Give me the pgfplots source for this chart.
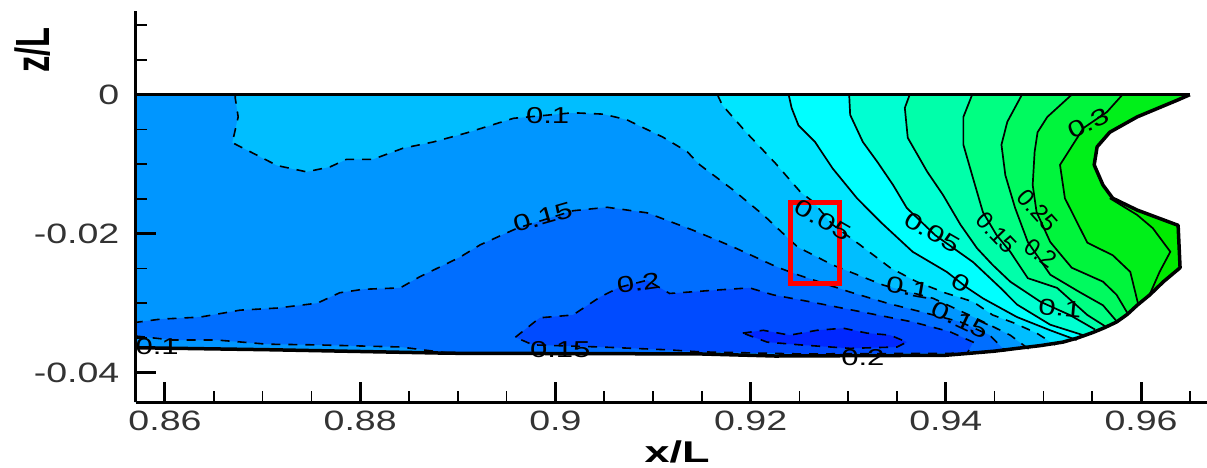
\documentclass[border=0pt]{standalone}
\usepackage{pgfplots}
\usepackage{pgfplotstable}
\pgfplotsset{compat=1.18}
\usepackage{fontspec}
\setmainfont{Liberation Sans}
\newfontfamily\tickf[FakeStretch=1.34]{Liberation Sans}
\newfontfamily\labf[FakeStretch=1.35]{Liberation Sans}
\newcommand{\lab}[1]{{\labf\fontsize{23}{23}\selectfont #1}}
\newcommand{\labs}[1]{{\fontsize{24}{24}\selectfont #1}}
\definecolor{b1}{RGB}{0,40,255}
\definecolor{b2}{RGB}{0,75,255}
\definecolor{b3}{RGB}{0,110,255}
\definecolor{b4}{RGB}{0,150,255}
\definecolor{b5}{RGB}{0,190,255}
\definecolor{b6}{RGB}{0,230,255}
\definecolor{g0}{RGB}{0,255,255}
\definecolor{g1}{RGB}{0,255,210}
\definecolor{g2}{RGB}{0,255,170}
\definecolor{g3}{RGB}{0,255,130}
\definecolor{g4}{RGB}{0,250,95}
\definecolor{g5}{RGB}{0,245,60}
\definecolor{g6}{RGB}{0,240,25}
\definecolor{g7}{RGB}{0,235,0}
\pgfplotstableread{
x y
.97 -.05
.97 0
}\corners
\pgfplotstableread{
x y
.8672 0
.8672 -.0005
.8675 -.0032
.8669 -.0069
.8690 -.0084
.8715 -.0102
.8745 -.0111
.8769 -.0104
.8786 -.0093
.8813 -.0093
.8844 -.0077
.8875 -.0068
.8909 -.0055
.8957 -.0034
.9018 -.0026
.9049 -.0028
.9073 -.0036
.9110 -.0061
.9135 -.0082
.9148 -.0101
.9182 -.0137
.9213 -.0173
.9248 -.0219
.9284 -.0245
.9336 -.0274
.9387 -.0293
.9430 -.0321
.9466 -.0346
.9486 -.0367
}\cA
\pgfplotstableread{
x y
.8568 -.0328
.8595 -.0323
.8636 -.0320
.8677 -.0310
.8715 -.0307
.8756 -.0300
.8779 -.0285
.8803 -.0280
.8841 -.0278
.8861 -.0262
.8902 -.0234
.8923 -.0216
.8961 -.0192
.9018 -.0167
.9053 -.0162
.9094 -.0170
.9141 -.0195
.9182 -.0219
.9227 -.0248
.9248 -.0259
.9302 -.0284
.9340 -.0300
.9379 -.0314
.9415 -.0327
.9445 -.0346
.9461 -.0369
}\cB
\pgfplotstableread{
x y
.8892 -.0372
.8841 -.0363
.8756 -.0360
.8705 -.0359
.8653 -.0353
.8608 -.0353
.8568 -.0347
}\cBl
\pgfplotstableread{
x y
.8959 -.0349
.8984 -.0321
.9018 -.0317
.9046 -.0291
.9066 -.0277
.9094 -.0267
.9117 -.0286
.9166 -.0281
.9199 -.0278
.9223 -.0288
.9261 -.0298
.9319 -.0314
.9366 -.0327
.9404 -.0341
.9428 -.0356
.9422 -.0372
.9251 -.0373
.9148 -.0370
.9114 -.0367
.9046 -.0363
.8977 -.0360
.8959 -.0349
}\cC
\pgfplotstableread{
x y
.9192 -.0343
.9213 -.0339
.9240 -.0346
.9268 -.0339
.9295 -.0336
.9319 -.0343
.9343 -.0346
.9360 -.0356
.9350 -.0363
.9302 -.0365
.9251 -.0360
.9217 -.0356
.9192 -.0343
}\cD
\pgfplotstableread{
x y
.9166 0
.9171 -.0015
.9196 -.0055
.9225 -.0098
.9251 -.0140
.9264 -.0154
.9284 -.0187
.9312 -.0216
.9343 -.0249
.9370 -.0269
.9399 -.0285
.9428 -.0298
.9448 -.0317
.9469 -.0328
.9493 -.0343
.9512 -.0360
}\cE
\pgfplotstableread{
x y
.9239 0
.9242 -.0019
.9249 -.0044
.9266 -.0068
.9284 -.0106
.9309 -.0149
.9333 -.0183
.9366 -.0226
.9401 -.0255
.9422 -.0278
.9438 -.0293
.9473 -.0320
.9507 -.0339
.9534 -.0353
}\cF
\pgfplotstableread{
x y
.9301 0
.9302 -.0029
.9315 -.0068
.9330 -.0097
.9346 -.0130
.9360 -.0163
.9389 -.0202
.9428 -.0241
.9456 -.0278
.9473 -.0302
.9507 -.0331
.9543 -.0347
}\cG
\pgfplotstableread{
x y
.9363 0
.9358 -.0019
.9361 -.0062
.9381 -.0111
.9397 -.0144
.9415 -.0187
.9432 -.0221
.9448 -.0245
.9466 -.0269
.9497 -.0298
.9527 -.0317
.9553 -.0338
}\cH
\pgfplotstableread{
x y
.9427 0
.9418 -.0032
.9418 -.0072
.9427 -.0116
.9438 -.0169
.9452 -.0202
.9466 -.0226
.9484 -.0264
.9514 -.0278
.9545 -.0317
.9563 -.0333
}\cI
\pgfplotstableread{
x y
.9478 0
.9463 -.0039
.9457 -.0072
.9461 -.0116
.9471 -.0163
.9484 -.0212
.9507 -.0259
.9537 -.0284
.9561 -.0303
.9575 -.0326
}\cJ
\pgfplotstableread{
x y
.9529 0
.9504 -.0032
.9494 -.0054
.9491 -.0082
.9489 -.0130
.9493 -.0169
.9507 -.0212
.9529 -.0249
.9561 -.0269
.9575 -.0288
.9586 -.0314
}\cK
\pgfplotstableread{
x y
.9581 0
.9565 -.0025
.9541 -.0048
.9517 -.0101
.9522 -.0149
.9545 -.0213
.9571 -.0231
.9589 -.0255
.9597 -.0301
}\cL
\pgfplotstableread{
x y
.9568 -.0149
.9596 -.0173
.9612 -.0192
.9630 -.0226
.9619 -.0255
.9609 -.0287
}\cM
\pgfplotstableread{
x y
.9650 0
.9637 -.0008
.9596 -.0032
.9568 -.0054
.9555 -.0075
.9552 -.0101
.9561 -.0130
.9571 -.0149
.9596 -.0166
.9638 -.0188
.9640 -.0249
.9623 -.0269
.9609 -.0288
.9596 -.0303
.9586 -.0316
.9575 -.0327
.9563 -.0335
.9551 -.0342
.9535 -.0350
.9520 -.0356
.9497 -.0361
.9473 -.0365
.9450 -.0369
.9425 -.0372
.9399 -.0375
.9225 -.0376
.9148 -.0373
.8892 -.0372
.8708 -.0367
.8568 -.0364
}\bnd
\pgfplotstableread{
x y
.8560 -.0364
.8560 -.05
.97 -.05
.97 .001
.9650 .001
}\outer
\pgfplotstablevertcat{\fA}{\cA}\pgfplotstablevertcat{\fA}{\corners}
\pgfplotstablevertcat{\fB}{\cB}\pgfplotstablevertcat{\fB}{\cBl}
\pgfplotstablevertcat{\fE}{\cE}\pgfplotstablevertcat{\fE}{\corners}
\pgfplotstablevertcat{\fF}{\cF}\pgfplotstablevertcat{\fF}{\corners}
\pgfplotstablevertcat{\fG}{\cG}\pgfplotstablevertcat{\fG}{\corners}
\pgfplotstablevertcat{\fH}{\cH}\pgfplotstablevertcat{\fH}{\corners}
\pgfplotstablevertcat{\fI}{\cI}\pgfplotstablevertcat{\fI}{\corners}
\pgfplotstablevertcat{\fJ}{\cJ}\pgfplotstablevertcat{\fJ}{\corners}
\pgfplotstablevertcat{\fK}{\cK}\pgfplotstablevertcat{\fK}{\corners}
\pgfplotstablevertcat{\fL}{\cL}\pgfplotstablevertcat{\fL}{\corners}
\pgfplotstablevertcat{\fM}{\cM}\pgfplotstablevertcat{\fM}{\corners}
\pgfplotstablevertcat{\fO}{\bnd}\pgfplotstablevertcat{\fO}{\outer}
\begin{document}
\begin{tikzpicture}
\useasboundingbox (0,0) rectangle (1207pt,467pt);
\begin{axis}[
  at={(135.5pt,64.7pt)}, anchor=south west,
  scale only axis, width=1071.5pt, height=391.3pt,
  xmin=.85698, xmax=.96676, ymin=-.04426, ymax=.01204,
  axis x line*=bottom, axis y line*=left,
  axis line style={-, line width=3.5pt, black},
  axis on top,
  tick align=inside,
  xtick={.86,.88,.9,.92,.94,.96},
  xticklabels={0.86,0.88,0.9,0.92,0.94,0.96},
  minor xtick={.865,.87,.875,.885,.89,.895,.905,.91,.915,.925,.93,.935,.945,.95,.955,.965},
  ytick={-.04,-.02,0},
  yticklabels={-0.04,-0.02,0},
  minor ytick={-.035,-.03,-.025,-.015,-.01,-.005,.005,.01},
  major tick length=20pt, minor tick length=11pt,
  major tick style={line width=3pt, black},
  minor tick style={line width=1.7pt, black},
  xticklabel style={font=\tickf\fontsize{28}{28}\selectfont, text=black!80, inner sep=0pt, anchor=north, yshift=-8pt},
  yticklabel style={font=\tickf\fontsize{28}{28}\selectfont, text=black!80, inner sep=0pt, anchor=east, xshift=-16pt},
]
% filled bands
\addplot[fill=b4, draw=none] coordinates {(.85,0) (.97,0) (.97,-.05) (.85,-.05)};
\addplot[fill=b5, draw=none] table {\fA};
\addplot[fill=b3, draw=none] table {\fB};
\addplot[fill=b2, draw=none] table {\cC};
\addplot[fill=b1, draw=none] table {\cD};
\addplot[fill=b6, draw=none] table {\fE};
\addplot[fill=g0, draw=none] table {\fF};
\addplot[fill=g1, draw=none] table {\fG};
\addplot[fill=g2, draw=none] table {\fH};
\addplot[fill=g3, draw=none] table {\fI};
\addplot[fill=g4, draw=none] table {\fJ};
\addplot[fill=g5, draw=none] table {\fK};
\addplot[fill=g6, draw=none] table {\fL};
\addplot[fill=g7, draw=none] table {\fM};
\addplot[fill=white, draw=none] table {\fO};
% contour lines
\pgfplotsset{cdash/.style={black, line width=1.6pt, dash pattern=on 9pt off 8pt},
             csol/.style={black, line width=1.7pt}}
\addplot[cdash] table {\cA};
\addplot[cdash] table {\cB};
\addplot[cdash] table {\cBl};
\addplot[cdash] table {\cC};
\addplot[cdash] table {\cD};
\addplot[cdash] table {\cE};
\addplot[csol] table {\cF};
\addplot[csol] table {\cG};
\addplot[csol] table {\cH};
\addplot[csol] table {\cI};
\addplot[csol] table {\cJ};
\addplot[csol] table {\cK};
\addplot[csol] table {\cL};
\addplot[csol] table {\cM};
% boundary
\addplot[black, line width=3.5pt, line join=round] coordinates {(.8568,0) (.9650,0)};
\addplot[black, line width=3.5pt, line join=round] table {\bnd};
% highlight
\addplot[red, line width=5pt, line join=miter] coordinates {(.9241,-.0155) (.9291,-.0155) (.9291,-.0272) (.9241,-.0272) (.9241,-.0155) (.9291,-.0155)};
% contour labels
\node[inner sep=0pt] at (axis cs:.8992,-.0030) {\lab{0.1}};
\node[inner sep=0pt,rotate=16] at (axis cs:.8987,-.0176) {\lab{0.15}};
\node[inner sep=0pt,rotate=8] at (axis cs:.9085,-.0271) {\lab{0.2}};
\node[inner sep=0pt] at (axis cs:.9005,-.0367) {\lab{0.15}};
\node[inner sep=0pt] at (axis cs:.9315,-.0378) {\lab{0.2}};
\node[inner sep=0pt,rotate=-30] at (axis cs:.9274,-.0180) {\lab{0.05}};
\node[inner sep=0pt,rotate=-30] at (axis cs:.9386,-.0198) {\lab{0.05}};
\node[inner sep=0pt,rotate=-30] at (axis cs:.9415,-.0271) {\lab{0}};
\node[inner sep=0pt,rotate=-10] at (axis cs:.9361,-.0278) {\lab{0.1}};
\node[inner sep=0pt,rotate=-25] at (axis cs:.9415,-.0324) {\lab{0.15}};
\node[inner sep=0pt,rotate=-5] at (axis cs:.9517,-.0307) {\lab{0.1}};
\node[inner sep=0pt,rotate=-46] at (axis cs:.9452,-.0199) {\labs{0.15}};
\node[inner sep=0pt,rotate=-36] at (axis cs:.9497,-.0228) {\labs{0.2}};
\node[inner sep=0pt,rotate=-48] at (axis cs:.9494,-.0166) {\labs{0.25}};
\node[inner sep=0pt,rotate=25] at (axis cs:.9546,-.0041) {\lab{0.3}};
\node[inner sep=0pt] at (axis cs:.8592,-.0363) {\lab{0.1}};
\end{axis}
\node[inner sep=0pt] at (677pt,15.5pt) {\scalebox{1.5}[1]{\fontsize{30}{30}\selectfont\bfseries x/L}};
\node[inner sep=0pt,rotate=90] at (33pt,417pt) {\scalebox{0.68}[1]{\fontsize{48}{48}\selectfont\bfseries z/L}};
\end{tikzpicture}
\end{document}
